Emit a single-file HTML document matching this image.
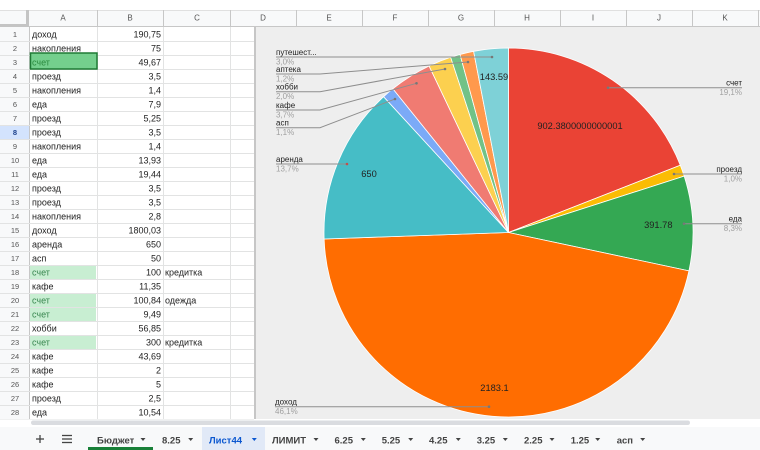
<!DOCTYPE html>
<html><head><meta charset="utf-8"><style>
html,body{margin:0;padding:0;background:#fff;}
svg{display:block;}
text{font-family:"Liberation Sans","Noto Sans CJK SC",sans-serif;}
.c{font-size:9px;fill:#222;}
.g{font-size:9px;fill:#38864f;}
.h{font-size:8px;fill:#555;text-anchor:middle;}
.n{font-size:7.5px;fill:#555;text-anchor:middle;}
.r{text-anchor:end;}
.v{font-size:9.3px;fill:#222;text-anchor:middle;}
.ln{font-size:8px;fill:#222;}
.lp{font-size:8px;fill:#a0a0a0;}
.t{font-size:9.5px;fill:#444;font-weight:bold;}
</style></head><body>
<svg width="760" height="450" viewBox="0 0 760 450" xmlns="http://www.w3.org/2000/svg">
<rect x="0" y="0" width="760" height="450" fill="#fff"/>
<!-- header band -->
<rect x="0" y="10" width="760" height="17" fill="#f8f9fa"/>
<line x1="0" y1="26.5" x2="760" y2="26.5" stroke="#c7c7c7" stroke-width="1"/>
<line x1="0" y1="10.5" x2="760" y2="10.5" stroke="#e0e0e0" stroke-width="1"/>
<g stroke="#c7c7c7" stroke-width="1">
<line x1="97.5" y1="10" x2="97.5" y2="27"/><line x1="163.5" y1="10" x2="163.5" y2="27"/>
<line x1="230.5" y1="10" x2="230.5" y2="27"/><line x1="296.5" y1="10" x2="296.5" y2="27"/>
<line x1="362.5" y1="10" x2="362.5" y2="27"/><line x1="428.5" y1="10" x2="428.5" y2="27"/>
<line x1="494.5" y1="10" x2="494.5" y2="27"/><line x1="560.5" y1="10" x2="560.5" y2="27"/>
<line x1="626.5" y1="10" x2="626.5" y2="27"/><line x1="692.5" y1="10" x2="692.5" y2="27"/>
<line x1="758.5" y1="10" x2="758.5" y2="27"/>
</g>
<!-- corner -->
<rect x="26" y="10" width="3" height="17" fill="#c4c4c4"/>
<rect x="0" y="24" width="29" height="3" fill="#c4c4c4"/>
<g class="h">
<text x="63" y="20.5" class="h">A</text><text x="130" y="20.5" class="h">B</text><text x="197" y="20.5" class="h">C</text>
<text x="263" y="20.5" class="h">D</text><text x="329" y="20.5" class="h">E</text><text x="395" y="20.5" class="h">F</text>
<text x="461" y="20.5" class="h">G</text><text x="527" y="20.5" class="h">H</text><text x="593" y="20.5" class="h">I</text>
<text x="659" y="20.5" class="h">J</text><text x="725" y="20.5" class="h">K</text>
</g>
<!-- row number column -->
<rect x="0" y="27" width="29" height="392" fill="#f8f9fa"/>
<rect x="0" y="125" width="29" height="14" fill="#d3e3fd"/>
<line x1="29.5" y1="27" x2="29.5" y2="419" stroke="#c7c7c7"/>
<!-- grid lines -->
<g stroke="#e2e3e3" stroke-width="1">
<line x1="0" y1="41.5" x2="254" y2="41.5"/><line x1="0" y1="55.5" x2="254" y2="55.5"/>
<line x1="0" y1="69.5" x2="254" y2="69.5"/><line x1="0" y1="83.5" x2="254" y2="83.5"/>
<line x1="0" y1="97.5" x2="254" y2="97.5"/><line x1="0" y1="111.5" x2="254" y2="111.5"/>
<line x1="0" y1="125.5" x2="254" y2="125.5"/><line x1="0" y1="139.5" x2="254" y2="139.5"/>
<line x1="0" y1="153.5" x2="254" y2="153.5"/><line x1="0" y1="167.5" x2="254" y2="167.5"/>
<line x1="0" y1="181.5" x2="254" y2="181.5"/><line x1="0" y1="195.5" x2="254" y2="195.5"/>
<line x1="0" y1="209.5" x2="254" y2="209.5"/><line x1="0" y1="223.5" x2="254" y2="223.5"/>
<line x1="0" y1="237.5" x2="254" y2="237.5"/><line x1="0" y1="251.5" x2="254" y2="251.5"/>
<line x1="0" y1="265.5" x2="254" y2="265.5"/><line x1="0" y1="279.5" x2="254" y2="279.5"/>
<line x1="0" y1="293.5" x2="254" y2="293.5"/><line x1="0" y1="307.5" x2="254" y2="307.5"/>
<line x1="0" y1="321.5" x2="254" y2="321.5"/><line x1="0" y1="335.5" x2="254" y2="335.5"/>
<line x1="0" y1="349.5" x2="254" y2="349.5"/><line x1="0" y1="363.5" x2="254" y2="363.5"/>
<line x1="0" y1="377.5" x2="254" y2="377.5"/><line x1="0" y1="391.5" x2="254" y2="391.5"/>
<line x1="0" y1="405.5" x2="254" y2="405.5"/><line x1="0" y1="419.5" x2="254" y2="419.5"/>
<line x1="97.5" y1="27" x2="97.5" y2="419"/><line x1="163.5" y1="27" x2="163.5" y2="419"/>
<line x1="230.5" y1="27" x2="230.5" y2="419"/>
</g>
<!-- green cells -->
<rect x="30" y="266" width="66" height="13" fill="#c8eed2"/>
<rect x="30" y="294" width="66" height="13" fill="#c8eed2"/>
<rect x="30" y="308" width="66" height="13" fill="#c8eed2"/>
<rect x="30" y="336" width="66" height="13" fill="#c8eed2"/>
<rect x="30.5" y="53" width="66.5" height="16" fill="#74cf8d" stroke="#1f7a35" stroke-width="1.5"/>
<!-- row numbers -->
<g class="n">
<text x="15" y="37" class="n">1</text><text x="15" y="51" class="n">2</text><text x="15" y="65" class="n">3</text>
<text x="15" y="79" class="n">4</text><text x="15" y="93" class="n">5</text><text x="15" y="107" class="n">6</text>
<text x="15" y="121" class="n">7</text><text x="15" y="135" class="n" style="fill:#1a3f8a;font-weight:bold">8</text><text x="15" y="149" class="n">9</text>
<text x="15" y="163" class="n">10</text><text x="15" y="177" class="n">11</text><text x="15" y="191" class="n">12</text>
<text x="15" y="205" class="n">13</text><text x="15" y="219" class="n">14</text><text x="15" y="233" class="n">15</text>
<text x="15" y="247" class="n">16</text><text x="15" y="261" class="n">17</text><text x="15" y="275" class="n">18</text>
<text x="15" y="289" class="n">19</text><text x="15" y="303" class="n">20</text><text x="15" y="317" class="n">21</text>
<text x="15" y="331" class="n">22</text><text x="15" y="345" class="n">23</text><text x="15" y="359" class="n">24</text>
<text x="15" y="373" class="n">25</text><text x="15" y="387" class="n">26</text><text x="15" y="401" class="n">27</text>
<text x="15" y="415" class="n">28</text>
</g>
<!-- cell text col A -->
<text x="32" y="37.5" class="c">доход</text>
<text x="32" y="51.5" class="c">накопления</text>
<text x="32" y="65.5" class="g" style="fill:#2b8a3e">счет</text>
<text x="32" y="79.5" class="c">проезд</text>
<text x="32" y="93.5" class="c">накопления</text>
<text x="32" y="107.5" class="c">еда</text>
<text x="32" y="121.5" class="c">проезд</text>
<text x="32" y="135.5" class="c">проезд</text>
<text x="32" y="149.5" class="c">накопления</text>
<text x="32" y="163.5" class="c">еда</text>
<text x="32" y="177.5" class="c">еда</text>
<text x="32" y="191.5" class="c">проезд</text>
<text x="32" y="205.5" class="c">проезд</text>
<text x="32" y="219.5" class="c">накопления</text>
<text x="32" y="233.5" class="c">доход</text>
<text x="32" y="247.5" class="c">аренда</text>
<text x="32" y="261.5" class="c">асп</text>
<text x="32" y="275.5" class="g">счет</text>
<text x="32" y="289.5" class="c">кафе</text>
<text x="32" y="303.5" class="g">счет</text>
<text x="32" y="317.5" class="g">счет</text>
<text x="32" y="331.5" class="c">хобби</text>
<text x="32" y="345.5" class="g">счет</text>
<text x="32" y="359.5" class="c">кафе</text>
<text x="32" y="373.5" class="c">кафе</text>
<text x="32" y="387.5" class="c">кафе</text>
<text x="32" y="401.5" class="c">проезд</text>
<text x="32" y="415.5" class="c">еда</text>
<!-- col B -->
<g class="c r">
<text x="161" y="37.5" class="c r">190,75</text>
<text x="161" y="51.5" class="c r">75</text>
<text x="161" y="65.5" class="c r">49,67</text>
<text x="161" y="79.5" class="c r">3,5</text>
<text x="161" y="93.5" class="c r">1,4</text>
<text x="161" y="107.5" class="c r">7,9</text>
<text x="161" y="121.5" class="c r">5,25</text>
<text x="161" y="135.5" class="c r">3,5</text>
<text x="161" y="149.5" class="c r">1,4</text>
<text x="161" y="163.5" class="c r">13,93</text>
<text x="161" y="177.5" class="c r">19,44</text>
<text x="161" y="191.5" class="c r">3,5</text>
<text x="161" y="205.5" class="c r">3,5</text>
<text x="161" y="219.5" class="c r">2,8</text>
<text x="161" y="233.5" class="c r">1800,03</text>
<text x="161" y="247.5" class="c r">650</text>
<text x="161" y="261.5" class="c r">50</text>
<text x="161" y="275.5" class="c r">100</text>
<text x="161" y="289.5" class="c r">11,35</text>
<text x="161" y="303.5" class="c r">100,84</text>
<text x="161" y="317.5" class="c r">9,49</text>
<text x="161" y="331.5" class="c r">56,85</text>
<text x="161" y="345.5" class="c r">300</text>
<text x="161" y="359.5" class="c r">43,69</text>
<text x="161" y="373.5" class="c r">2</text>
<text x="161" y="387.5" class="c r">5</text>
<text x="161" y="401.5" class="c r">2,5</text>
<text x="161" y="415.5" class="c r">10,54</text>
</g>
<text x="165" y="275.5" class="c">кредитка</text>
<text x="165" y="303.5" class="c">одежда</text>
<text x="165" y="345.5" class="c">кредитка</text>

<!-- chart -->
<rect x="254" y="27" width="506" height="392" fill="#eeeeee"/>
<line x1="255" y1="27" x2="255" y2="419" stroke="#c6c6c6" stroke-width="2"/>
<g stroke="#ffffff" stroke-width="0.8" stroke-linejoin="round">
<path d="M508.5,232.5 L508.5,48 A184.5,184.5 0 0 1 680.29,165.21 Z" fill="#ea4335"/>
<path d="M508.5,232.5 L680.29,165.21 A184.5,184.5 0 0 1 684.18,176.14 Z" fill="#fbbc04"/>
<path d="M508.5,232.5 L684.18,176.14 A184.5,184.5 0 0 1 688.96,270.86 Z" fill="#34a853"/>
<path d="M508.5,232.5 L688.96,270.86 A184.5,184.5 0 0 1 324.11,239.0 Z" fill="#ff6d01"/>
<path d="M508.5,232.5 L324.11,239.0 A184.5,184.5 0 0 1 383.61,96.69 Z" fill="#46bdc6"/>
<path d="M508.5,232.5 L383.61,96.69 A184.5,184.5 0 0 1 392.89,88.72 Z" fill="#7baaf7"/>
<path d="M508.5,232.5 L392.89,88.72 A184.5,184.5 0 0 1 429.07,65.97 Z" fill="#f07b72"/>
<path d="M508.5,232.5 L429.07,65.97 A184.5,184.5 0 0 1 450.66,57.30 Z" fill="#fcd04f"/>
<path d="M508.5,232.5 L450.66,57.30 A184.5,184.5 0 0 1 460.03,54.48 Z" fill="#71c287"/>
<path d="M508.5,232.5 L460.03,54.48 A184.5,184.5 0 0 1 473.61,51.32 Z" fill="#ff994d"/>
<path d="M508.5,232.5 L473.61,51.32 A184.5,184.5 0 0 1 508.5,48 Z" fill="#7ed1d7"/>
</g>
<!-- slice values -->
<text x="580" y="129" class="v">902.3800000000001</text>
<text x="658.3" y="228" class="v">391.78</text>
<text x="494.5" y="391" class="v">2183.1</text>
<text x="369" y="177" class="v">650</text>
<text x="494" y="80" class="v">143.59</text>
<!-- leader lines -->
<g fill="none" stroke="#8e8e8e" stroke-width="1">
<polyline points="276,57 492,57"/>
<polyline points="276,74 320,74 468,62"/>
<polyline points="276,91.7 320,91.7 445,69"/>
<polyline points="276,110 320,110 416.5,83.3"/>
<polyline points="276,127.7 320,127.7 395,99"/>
<polyline points="276,164 347,164"/>
<polyline points="275,406.7 489,406.7"/>
<polyline points="742,87.7 608,87.7"/>
<polyline points="742,174 674,174"/>
<polyline points="742,223.7 684,223.7"/>
</g>
<g fill="#777">
<circle cx="492" cy="57" r="1.3"/><circle cx="468" cy="62" r="1.3"/><circle cx="445" cy="69" r="1.3"/>
<circle cx="416.5" cy="83.3" r="1.3"/><circle cx="395" cy="99" r="1.3"/><circle cx="347" cy="164" r="1.3" fill="#c0504d"/>
<circle cx="489" cy="406.7" r="1.3"/><circle cx="608" cy="87.7" r="1.3"/><circle cx="674" cy="174" r="1.3"/>
<circle cx="684" cy="223.7" r="1.3"/>
</g>
<!-- left labels -->
<text x="276" y="55" class="ln">путешест...</text><text x="276" y="64.5" class="lp">3,0%</text>
<text x="276" y="72" class="ln">аптека</text><text x="276" y="81.5" class="lp">1,2%</text>
<text x="276" y="89.7" class="ln">хобби</text><text x="276" y="99.2" class="lp">2,0%</text>
<text x="276" y="108" class="ln">кафе</text><text x="276" y="117.5" class="lp">3,7%</text>
<text x="276" y="125.7" class="ln">асп</text><text x="276" y="135.2" class="lp">1,1%</text>
<text x="276" y="162" class="ln">аренда</text><text x="276" y="171.5" class="lp">13,7%</text>
<text x="275" y="404.7" class="ln">доход</text><text x="275" y="414.2" class="lp">46,1%</text>
<!-- right labels -->
<text x="742" y="85.7" class="ln r">счет</text><text x="742" y="95.2" class="lp r">19,1%</text>
<text x="742" y="172" class="ln r">проезд</text><text x="742" y="181.5" class="lp r">1,0%</text>
<text x="742" y="221.7" class="ln r">еда</text><text x="742" y="231.2" class="lp r">8,3%</text>

<!-- scrollbar -->
<rect x="0" y="419.5" width="760" height="7.5" fill="#ffffff"/>
<rect x="31" y="420.5" width="659" height="4.5" rx="2.2" fill="#dadce0"/>
<!-- tab bar -->
<rect x="0" y="427" width="760" height="23" fill="#f8f9fa"/>
<rect x="202" y="427" width="63" height="23" fill="#e1e9f7"/>
<rect x="88" y="447" width="65" height="3" fill="#188038"/>
<g stroke="#444" stroke-width="1.3">
<line x1="36" y1="439" x2="44" y2="439"/><line x1="40" y1="435" x2="40" y2="443"/>
<line x1="62" y1="435.5" x2="72" y2="435.5"/><line x1="62" y1="439" x2="72" y2="439"/><line x1="62" y1="442.5" x2="72" y2="442.5"/>
</g>
<text x="97" y="443.5" class="t">Бюджет</text>
<text x="162" y="443.5" class="t">8.25</text>
<text x="209" y="443.5" class="t" style="fill:#0b57d0">Лист44</text>
<text x="272" y="443.5" class="t">ЛИМИТ</text>
<text x="334.5" y="443.5" class="t">6.25</text>
<text x="381.7" y="443.5" class="t">5.25</text>
<text x="429" y="443.5" class="t">4.25</text>
<text x="476.7" y="443.5" class="t">3.25</text>
<text x="524" y="443.5" class="t">2.25</text>
<text x="570.7" y="443.5" class="t">1.25</text>
<text x="616.7" y="443.5" class="t">асп</text>
<g fill="#444">
<polygon points="140.5,438 145.5,438 143,441"/>
<polygon points="188.2,438 193.2,438 190.7,441"/>
<polygon points="251.8,438 256.8,438 254.3,441" fill="#0b57d0"/>
<polygon points="313.5,438 318.5,438 316,441"/>
<polygon points="360.8,438 365.8,438 363.3,441"/>
<polygon points="408.2,438 413.2,438 410.7,441"/>
<polygon points="455.8,438 460.8,438 458.3,441"/>
<polygon points="502.8,438 507.8,438 505.3,441"/>
<polygon points="549.5,438 554.5,438 552,441"/>
<polygon points="595.2,438 600.2,438 597.7,441"/>
<polygon points="640.2,438 645.2,438 642.7,441"/>
</g>
</svg>
</body></html>
